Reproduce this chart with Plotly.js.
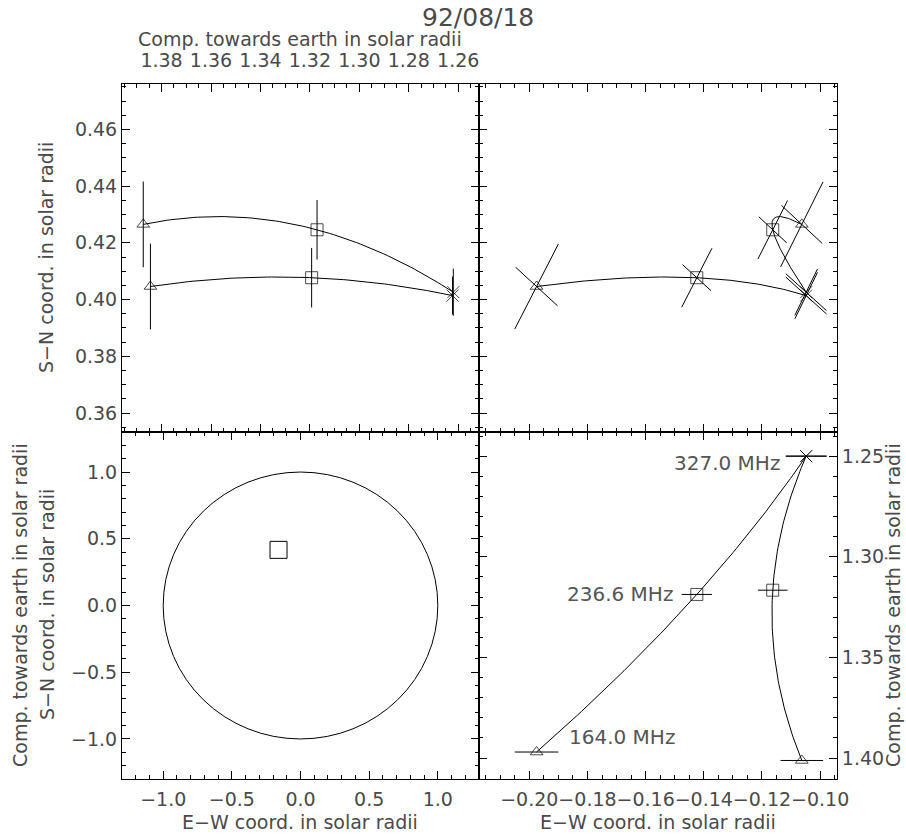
<!DOCTYPE html>
<html><head><meta charset="utf-8">
<script src="https://cdn.plot.ly/plotly-3.0.1.min.js"></script>
<style>html,body{margin:0;padding:0;background:#fff}</style>
</head><body><div id="chart" style="width:906px;height:836px"></div>
<script>
// ---------------- data ----------------
const dateTitle = '92/08/18';
const freqLabels = ['164.0 MHz', '236.6 MHz', '327.0 MHz'];
const markerSymbols = ['triangle-up-open', 'square-open', 'x-thin-open'];

// Track A (labelled track)
const ewA    = [-0.1975, -0.1424, -0.1048];   // E-W coord
const snA    = [0.4046, 0.4077, 0.4014];      // S-N coord
const zA     = [1.3970, 1.3187, 1.2500];      // comp. towards earth (lower right panel)
const zTopA  = [1.3845, 1.3193, 1.2623];      // comp. towards earth (upper left panel scale)
const ewErrA = [0.0075, 0.0052, 0.0070];
const snErrA = [0.0151, 0.0105, 0.0067];
const longDxA  = [0.0075, 0.0052, 0.0039];
const longDyA  = [0.0150, 0.0104, 0.0082];
const shortDxA = [0.0072, 0.0049, 0.0070];
const shortDyA = [-0.0068, -0.0046, -0.0065];

// Track B
const ewB    = [-0.1063, -0.1163, -0.1048];
const snB    = [0.4265, 0.4246, 0.4026];
const zB     = [1.4012, 1.3166, 1.2500];
const zTopB  = [1.3874, 1.3171, 1.2620];
const ewErrB = [0.0073, 0.0051, 0.0070];
const snErrB = [0.0151, 0.0105, 0.0083];
const longDxB  = [0.0073, 0.0051, 0.0039];
const longDyB  = [0.0150, 0.0103, 0.0082];
const shortDxB = [0.0070, 0.0048, 0.0070];
const shortDyB = [-0.0067, -0.0046, -0.0065];

// Disk panel
const diskEW = [-0.16];
const diskSN = [0.417];
const sunRadius = 1.0;

// ---------------- helpers ----------------
function lagrange(ts, vs, t) {
  let s = 0;
  for (let i = 0; i < ts.length; i++) {
    let L = 1;
    for (let j = 0; j < ts.length; j++) if (j !== i) L *= (t - ts[j]) / (ts[i] - ts[j]);
    s += vs[i] * L;
  }
  return s;
}
function fitCurve(param, xs, ys, n) {
  const x = [], y = [];
  const t0 = param[0], t1 = param[param.length - 1];
  for (let k = 0; k <= n; k++) {
    const t = t0 + (t1 - t0) * k / n;
    x.push(xs === null ? t : lagrange(param, xs, t));
    y.push(ys === null ? t : lagrange(param, ys, t));
  }
  return {x, y};
}
function crossLines(ew, sn, dx, dy) {
  const x = [], y = [];
  for (let i = 0; i < ew.length; i++) {
    x.push(ew[i] - dx[i], ew[i] + dx[i], null);
    y.push(sn[i] - dy[i], sn[i] + dy[i], null);
  }
  return {x, y};
}

const W = 906, H = 836;
const PX = {left: 122, mid: 479, right: 837, top: 84, midY: 432, bottom: 779};
const fx = p => p / W, fy = p => 1 - p / H;

const BLACK = '#000';
const TXT = '#4a4a4a';
const FONT = 'DejaVu Sans';

const lineStyle = {color: BLACK, width: 1};
const mk = {symbol: markerSymbols, size: [11, 12, 12], color: BLACK, line: {color: BLACK, width: 1}};

const traces = [];
// ----- top left: S-N vs comp towards earth -----
[[zA, zTopA, snA, snErrA], [zB, zTopB, snB, snErrB]].forEach(([z, zt, sn, err]) => {
  const c = fitCurve(z, zt, sn, 80);
  traces.push({x: c.x, y: c.y, xaxis: 'x2', yaxis: 'y2', mode: 'lines', line: lineStyle, hoverinfo: 'skip'});
  traces.push({x: zt, y: sn, xaxis: 'x2', yaxis: 'y2', mode: 'markers', marker: mk,
    error_y: {type: 'data', array: err, width: 0, thickness: 1, color: BLACK}});
});
// ----- top right: S-N vs E-W -----
[[zA, ewA, snA, longDxA, longDyA, shortDxA, shortDyA], [zB, ewB, snB, longDxB, longDyB, shortDxB, shortDyB]].forEach(([z, ew, sn, ldx, ldy, sdx, sdy]) => {
  const c = fitCurve(z, ew, sn, 120);
  traces.push({x: c.x, y: c.y, xaxis: 'x3', yaxis: 'y3', mode: 'lines', line: lineStyle, hoverinfo: 'skip'});
  const l1 = crossLines(ew, sn, ldx, ldy);
  const l2 = crossLines(ew, sn, sdx, sdy);
  traces.push({x: l1.x, y: l1.y, xaxis: 'x3', yaxis: 'y3', mode: 'lines', line: lineStyle, hoverinfo: 'skip'});
  traces.push({x: l2.x, y: l2.y, xaxis: 'x3', yaxis: 'y3', mode: 'lines', line: lineStyle, hoverinfo: 'skip'});
  traces.push({x: ew, y: sn, xaxis: 'x3', yaxis: 'y3', mode: 'markers', marker: mk});
});
// ----- bottom right: comp towards earth vs E-W -----
[[zA, ewA, ewErrA], [zB, ewB, ewErrB]].forEach(([z, ew, err]) => {
  const c = fitCurve(z, ew, null, 80);
  traces.push({x: c.x, y: c.y, xaxis: 'x4', yaxis: 'y4', mode: 'lines', line: lineStyle, hoverinfo: 'skip'});
  traces.push({x: ew, y: z, xaxis: 'x4', yaxis: 'y4', mode: 'markers', marker: mk,
    error_x: {type: 'data', array: err, width: 0, thickness: 1, color: BLACK}});
});
// ----- bottom left: disk -----
traces.push({x: diskEW, y: diskSN, xaxis: 'x', yaxis: 'y', mode: 'markers',
  marker: {symbol: 'square-open', size: 17, color: BLACK, line: {color: BLACK, width: 1}}});

function ax(o) {
  return Object.assign({
    showline: true, linecolor: BLACK, linewidth: 1, mirror: 'ticks',
    ticks: 'inside', ticklen: 8, tickwidth: 1, tickcolor: BLACK,
    showgrid: false, zeroline: false, tickmode: 'linear', tickangle: 0,
    tickfont: {family: FONT, size: 19, color: TXT}, fixedrange: true
  }, o);
}
function minor(d) { return {dtick: d, ticks: 'inside', ticklen: 4, tickcolor: BLACK, showgrid: false}; }

const xL = [fx(PX.left), fx(PX.mid)], xR = [fx(PX.mid), fx(PX.right)];
const yT = [fy(PX.midY), fy(PX.top)], yB = [fy(PX.bottom), fy(PX.midY)];

const snRange = [0.3533, 0.4760];
const ewRange = [-0.2173, -0.0942];

const layout = {
  width: W, height: H, margin: {l: 0, r: 0, t: 0, b: 0},
  paper_bgcolor: '#fff', plot_bgcolor: '#fff', showlegend: false,
  xaxis: ax({domain: xL, anchor: 'y', range: [-1.3, 1.3], tick0: 0, dtick: 0.5, tickformat: '.1f', minor: minor(0.1), ticklabelstandoff: 3}),
  yaxis: ax({domain: yB, anchor: 'x', range: [-1.3, 1.3], tick0: 0, dtick: 0.5, tickformat: '.1f', minor: minor(0.1)}),
  xaxis2: ax({domain: xL, anchor: 'y2', side: 'top', range: [1.396, 1.2516], tick0: 1.26, dtick: 0.02, tickformat: '.2f', minor: minor(0.005), ticklabelstandoff: 8}),
  yaxis2: ax({domain: yT, anchor: 'x2', range: snRange, tick0: 0.36, dtick: 0.02, tickformat: '.2f', minor: minor(0.005)}),
  xaxis3: ax({domain: xR, anchor: 'y3', range: ewRange, tick0: -0.2, dtick: 0.02, showticklabels: false, minor: minor(0.005)}),
  yaxis3: ax({domain: yT, anchor: 'x3', range: snRange, tick0: 0.36, dtick: 0.02, showticklabels: false, minor: minor(0.005)}),
  xaxis4: ax({domain: xR, anchor: 'y4', range: ewRange, tick0: -0.2, dtick: 0.02, tickformat: '.2f', minor: minor(0.005), ticklabelstandoff: 3}),
  yaxis4: ax({domain: yB, anchor: 'x4', side: 'right', range: [1.4104, 1.238], tick0: 1.25, dtick: 0.05, tickformat: '.2f', minor: minor(0.01)}),
  shapes: [{type: 'circle', xref: 'x', yref: 'y', x0: -sunRadius, x1: sunRadius, y0: -sunRadius, y1: sunRadius,
    line: {color: BLACK, width: 1}}],
  annotations: []
};

function note(text, px, py, o) {
  layout.annotations.push(Object.assign({text, xref: 'paper', yref: 'paper', x: fx(px), y: fy(py),
    showarrow: false, xanchor: 'center', yanchor: 'middle', font: {family: FONT, size: 19, color: TXT}}, o || {}));
}
note(dateTitle, 478, 18, {font: {family: FONT, size: 25, color: TXT}});
note('Comp. towards earth in solar radii', 300, 39);
note('S−N coord. in solar radii', 46, 258, {textangle: -90});
note('Comp. towards earth in solar radii', 20, 605, {textangle: -90});
note('S−N coord. in solar radii', 47, 605, {textangle: -90});
note('E−W coord. in solar radii', 300, 822);
note('E−W coord. in solar radii', 658, 822);
note('Comp. towards earth in solar radii', 893, 605, {textangle: -90});

// frequency labels along labelled track
const labelPos = [{xanchor: 'left', xshift: 30, yshift: 15}, {xanchor: 'right', xshift: -22, yshift: 0}, {xanchor: 'right', xshift: -24, yshift: -7}];
freqLabels.forEach((t, i) => {
  layout.annotations.push(Object.assign({text: t, xref: 'x4', yref: 'y4', x: ewA[i], y: zA[i], showarrow: false,
    yanchor: 'middle', font: {family: FONT, size: 20, color: '#555'}}, labelPos[i]));
});

Plotly.newPlot('chart', traces, layout, {staticPlot: true, displayModeBar: false});
</script></body></html>
